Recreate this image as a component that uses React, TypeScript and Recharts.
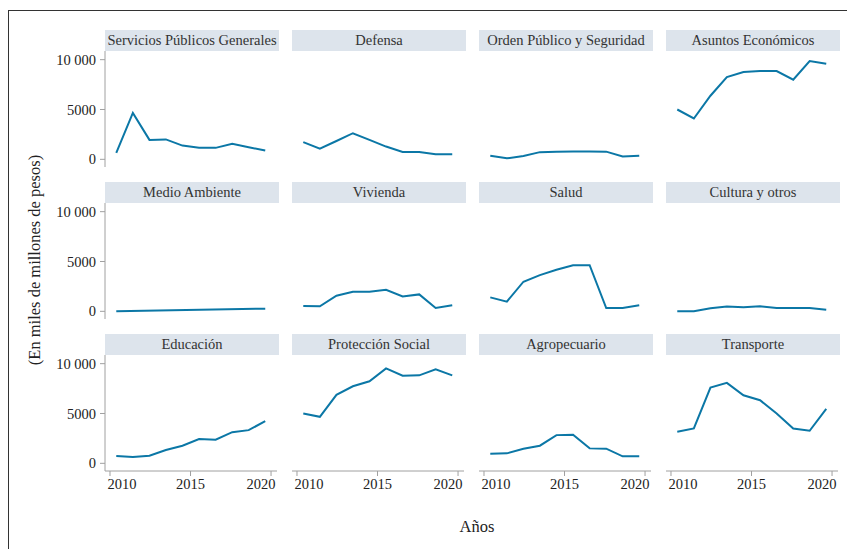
import React from "react";
import { LineChart, Line, XAxis, YAxis } from "recharts";

const years = [2010.39, 2011.42, 2012.45, 2013.47, 2014.5, 2015.53, 2016.56, 2017.59, 2018.61, 2019.64];

const serviciosPublicos = [650, 4650, 1950, 2000, 1380, 1170, 1150, 1550, 1220, 880];
const defensa = [1720, 1070, 1840, 2620, 1950, 1280, 740, 740, 500, 500];
const ordenPublico = [370, 100, 330, 720, 770, 780, 780, 770, 280, 370];
const asuntosEconomicos = [5000, 4100, 6380, 8250, 8760, 8860, 8860, 7990, 9870, 9600];
const medioAmbiente = [0, null, null, null, null, null, null, null, null, 270];
const vivienda = [530, 500, 1570, 1970, 1970, 2170, 1500, 1700, 330, 600];
const salud = [1400, 970, 2970, 3630, 4170, 4630, 4630, 330, 330, 600];
const cultura = [0, 0, 300, 480, 400, 500, 330, 330, 330, 170];
const educacion = [730, 630, 770, 1330, 1770, 2430, 2370, 3130, 3330, 4230];
const proteccionSocial = [5000, 4670, 6870, 7730, 8230, 9530, 8800, 8830, 9430, 8830];
const agropecuario = [970, 1000, 1470, 1770, 2830, 2870, 1500, 1470, 700, 700];
const transporte = [3170, 3500, 7600, 8070, 6830, 6330, 5000, 3500, 3270, 5470];

const titles = [
  "Servicios Públicos Generales", "Defensa", "Orden Público y Seguridad", "Asuntos Económicos",
  "Medio Ambiente", "Vivienda", "Salud", "Cultura y otros",
  "Educación", "Protección Social", "Agropecuario", "Transporte",
];
const series = [
  serviciosPublicos, defensa, ordenPublico, asuntosEconomicos,
  medioAmbiente, vivienda, salud, cultura,
  educacion, proteccionSocial, agropecuario, transporte,
];

const xTicks = [2010, 2015, 2020];
const yTicks = [0, 5000, 10000];

const FONT = "Liberation Serif";
const LINE = "#0b77a6";
const AXIS = "#a0a0a0";
const STRIP = "#dde4ec";

const colX = [105, 292, 479, 666];
const rowTop = [30, 182, 334];
const STRIP_H = 21;
const PLOT_W = 172;
const PLOT_H = 116;
const Y_W = 60;
const PAD = 20;

// first/last year labels sit inward of their tick, like the original
function YearTick(props: any) {
  const { x, y, payload } = props;
  const v = payload.value;
  let anchor: "start" | "middle" | "end" = "middle";
  let dx = 0;
  if (v === xTicks[0]) {
    anchor = "start";
    dx = -2.5;
  } else if (v === xTicks[xTicks.length - 1]) {
    anchor = "end";
    dx = 4.5;
  }
  return (
    <text
      x={x + dx}
      y={y}
      dy="0.71em"
      textAnchor={anchor}
      fontFamily={FONT}
      fontSize={14.5}
      fill="#222"
    >
      {v}
    </text>
  );
}

function Panel({ idx }: { idx: number }) {
  const col = idx % 4;
  const row = Math.floor(idx / 4);
  const showY = col === 0;
  const showX = row === 2;
  const data = years.map((x, i) => ({ x, v: series[idx][i] }));
  const leftPad = showY ? 0 : PAD;
  const w = PLOT_W + (showY ? Y_W : 0) + leftPad + PAD;
  const h = PLOT_H + (showX ? 30 : 0);
  const tickStyle = { fontFamily: FONT, fontSize: 14.5, fill: "#222" };
  return (
    <>
      <div
        style={{
          position: "absolute",
          left: colX[col],
          top: rowTop[row],
          width: 174,
          height: STRIP_H,
          background: STRIP,
          fontFamily: FONT,
          fontSize: 14.5,
          color: "#333",
          textAlign: "center",
          lineHeight: `${STRIP_H}px`,
          whiteSpace: "nowrap",
        }}
      >
        {titles[idx]}
      </div>
      <div
        style={{
          position: "absolute",
          left: colX[col] - (showY ? Y_W : 0) - leftPad,
          top: rowTop[row] + STRIP_H,
        }}
      >
        <LineChart
          width={w}
          height={h}
          data={data}
          margin={{ top: 0, right: PAD, bottom: 0, left: leftPad }}
        >
          <XAxis
            dataKey="x"
            type="number"
            domain={[2009.69, 2020.37]}
            ticks={xTicks}
            interval={0}
            allowDataOverflow
            hide={!showX}
            height={30}
            stroke={AXIS}
            tickSize={5}
            tickMargin={3}
            tick={YearTick}
          />
          <YAxis
            type="number"
            domain={[-770, 10870]}
            ticks={yTicks}
            interval={0}
            allowDataOverflow
            hide={!showY}
            width={Y_W}
            stroke={AXIS}
            tickSize={5}
            tickMargin={4}
            tick={tickStyle}
            tickFormatter={(v: number) => (v === 10000 ? "10 000" : String(v))}
          />
          <Line
            dataKey="v"
            stroke={LINE}
            strokeWidth={2}
            dot={false}
            connectNulls
            isAnimationActive={false}
          />
        </LineChart>
      </div>
    </>
  );
}

export default function App() {
  return (
    <div
      style={{
        position: "absolute",
        left: 0,
        top: 0,
        width: 847,
        height: 549,
        background: "#fff",
        overflow: "hidden",
      }}
    >
      <div
        style={{
          position: "absolute",
          left: 8,
          top: 10,
          width: 860,
          height: 560,
          borderLeft: "1.5px solid #333",
          borderTop: "1.5px solid #333",
        }}
      />
      {titles.map((_, i) => (
        <Panel key={i} idx={i} />
      ))}
      <div
        style={{
          position: "absolute",
          left: 35 - 150,
          top: 260 - 10,
          width: 300,
          height: 20,
          lineHeight: "20px",
          textAlign: "center",
          transform: "rotate(-90deg)",
          fontFamily: FONT,
          fontSize: 16.5,
          color: "#222",
          whiteSpace: "nowrap",
        }}
      >
        (En miles de millones de pesos)
      </div>
      <div
        style={{
          position: "absolute",
          left: 427,
          top: 517,
          width: 100,
          textAlign: "center",
          fontFamily: FONT,
          fontSize: 16.5,
          color: "#222",
        }}
      >
        Años
      </div>
    </div>
  );
}
